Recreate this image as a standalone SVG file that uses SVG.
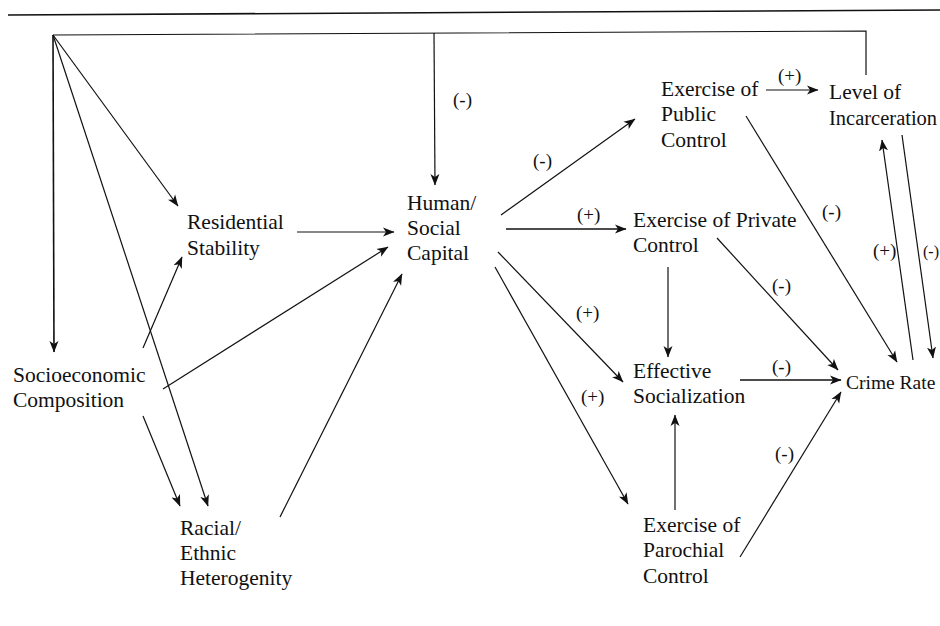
<svg xmlns="http://www.w3.org/2000/svg" width="940" height="626" viewBox="0 0 940 626">
<style>
.t{font-size:21.5px}
.l{font-size:19px}
.c line,.c polyline{stroke:#111;stroke-width:1.2;fill:none}
.a{marker-end:url(#ah)}
</style>
<defs>
<marker id="ah" viewBox="0 0 12 10" refX="11" refY="5" markerWidth="12" markerHeight="10" orient="auto" markerUnits="userSpaceOnUse">
<path d="M0,0.5 L11.5,5 L0,9.5 L3,5 z" fill="#111"/>
</marker>
</defs>
<rect width="940" height="626" fill="#fff"/>
<line x1="8" y1="15" x2="940" y2="10" stroke="#111" stroke-width="1.6"/>
<g id="connectors" class="c">
<polyline points="53,35 866,31 866,75"/>
<line class="a" x1="53" y1="35" x2="54" y2="352" style="stroke-width:1.6"/>
<line class="a" x1="53" y1="35" x2="178" y2="206"/>
<line class="a" x1="53" y1="35" x2="208" y2="506"/>
<line class="a" x1="434" y1="33" x2="435" y2="185"/>
<line class="a" x1="143" y1="348" x2="182" y2="257"/>
<line class="a" x1="163" y1="389" x2="388" y2="247"/>
<line class="a" x1="143" y1="416" x2="180" y2="506"/>
<line class="a" x1="280" y1="517" x2="402" y2="274"/>
<line class="a" x1="297" y1="232" x2="394" y2="232"/>
<line class="a" x1="501" y1="215" x2="635" y2="119"/>
<line class="a" x1="506" y1="229" x2="626" y2="229" style="stroke-width:1.5"/>
<line class="a" x1="498" y1="252" x2="623" y2="382"/>
<line class="a" x1="495" y1="267" x2="628" y2="504"/>
<line class="a" x1="766" y1="90" x2="818" y2="90"/>
<line class="a" x1="746" y1="116" x2="897" y2="362"/>
<line class="a" x1="717" y1="238" x2="838" y2="370"/>
<line class="a" x1="668" y1="267" x2="668" y2="357"/>
<line class="a" x1="740" y1="380" x2="841" y2="380" style="stroke-width:1.5"/>
<line class="a" x1="740" y1="557" x2="841" y2="392"/>
<line class="a" x1="675" y1="510" x2="675" y2="415"/>
<line class="a" x1="902" y1="135" x2="933" y2="358"/>
<line class="a" x1="913" y1="360" x2="882" y2="140"/>
</g>
<g font-family="Liberation Serif, Times New Roman, serif" fill="#111">
<g id="labels">
<text class="l" x="453" y="106">(-)</text>
<text class="l" x="533" y="167">(-)</text>
<text class="l" x="577" y="221">(+)</text>
<text class="l" x="576" y="319">(+)</text>
<text class="l" x="581" y="403">(+)</text>
<text class="l" x="778" y="82">(+)</text>
<text class="l" x="822" y="218">(-)</text>
<text class="l" x="772" y="292">(-)</text>
<text class="l" x="873" y="257">(+)</text>
<text x="923" y="257" font-size="16">(-)</text>
<text class="l" x="772" y="373">(-)</text>
<text class="l" x="775" y="460">(-)</text>
</g>
<g id="socioeconomic"><text class="t" x="13" y="382">Socioeconomic</text><text class="t" x="13" y="407">Composition</text></g>
<g id="residential"><text class="t" x="187" y="229">Residential</text><text class="t" x="187" y="255">Stability</text></g>
<g id="racial"><text class="t" x="180" y="535">Racial/</text><text class="t" x="180" y="560">Ethnic</text><text class="t" x="180" y="585">Heterogenity</text></g>
<g id="human"><text class="t" x="407" y="210">Human/</text><text class="t" x="407" y="235">Social</text><text class="t" x="407" y="260">Capital</text></g>
<g id="public"><text class="t" x="661" y="96">Exercise of</text><text class="t" x="661" y="121">Public</text><text class="t" x="661" y="147">Control</text></g>
<g id="incarceration"><text class="t" x="829" y="99">Level of</text><text x="829" y="125" font-size="20.5">Incarceration</text></g>
<g id="private"><text class="t" x="633" y="227">Exercise of Private</text><text class="t" x="633" y="252">Control</text></g>
<g id="socialization"><text class="t" x="633" y="378">Effective</text><text class="t" x="633" y="403">Socialization</text></g>
<g id="parochial"><text class="t" x="643" y="532">Exercise of</text><text class="t" x="643" y="557">Parochial</text><text class="t" x="643" y="583">Control</text></g>
<g id="crime"><text x="846" y="389" font-size="19.5">Crime Rate</text></g>
</g>
</svg>
